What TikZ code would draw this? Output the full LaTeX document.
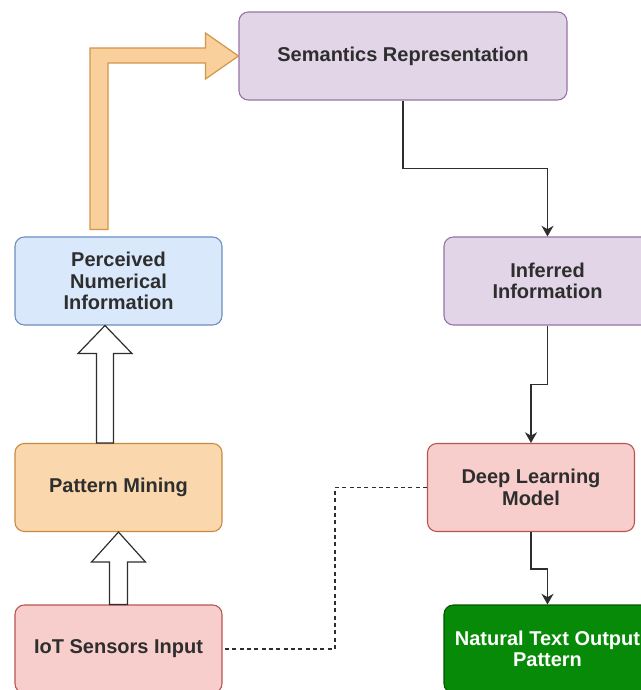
\documentclass[tikz,border=0pt]{standalone}
\usepackage{fontspec}
\setmainfont{Liberation Sans}
\usetikzlibrary{arrows.meta,calc}
\definecolor{semfill}{HTML}{E1D5E7}
\definecolor{semdraw}{HTML}{9673A6}
\definecolor{perfill}{HTML}{DAE8FC}
\definecolor{perdraw}{HTML}{6C8EBF}
\definecolor{patfill}{HTML}{FAD7AC}
\definecolor{patdraw}{HTML}{C98A3E}
\definecolor{iotfill}{HTML}{F8CECC}
\definecolor{iotdraw}{HTML}{B85450}
\definecolor{natfill}{HTML}{078A07}
\definecolor{natdraw}{HTML}{005700}
\definecolor{bendfill}{HTML}{F9CF9C}
\definecolor{benddraw}{HTML}{D3954A}
\definecolor{ink}{HTML}{2E2E2E}
\begin{document}
\begin{tikzpicture}
[
    x=0.75pt, y=-0.75pt,
    box/.style={rectangle, rounded corners=7pt, minimum width=155.25pt, minimum height=66pt,
        inner sep=0pt, align=center, line width=0.8pt, text=ink,
        font=\fontsize{15}{16.1}\selectfont\bfseries},
    semantic/.style={box, fill=semfill, draw=semdraw},
    perceived/.style={box, fill=perfill, draw=perdraw},
    mining/.style={box, fill=patfill, draw=patdraw},
    sensor/.style={box, fill=iotfill, draw=iotdraw},
    output/.style={box, fill=natfill, draw=natdraw, text=white},
    link/.style={draw=ink, line width=1pt, -{Stealth[length=8pt,width=9pt,inset=2.5pt]}},
    dashline/.style={draw=ink, line width=1pt, dash pattern=on 3pt off 2.5pt},
    hollow/.style={draw=ink, line width=0.9pt, fill=white, line join=miter},
    bent/.style={draw=benddraw, line width=0.9pt, fill=bendfill, line join=miter},
]
\useasboundingbox (0,0) rectangle (641,690);
\node[semantic, minimum width=246pt] (sem) at (403,56) {Semantics Representation};
\node[perceived] (per) at (118.5,281) {Perceived\\Numerical\\Information};
\node[mining] (pat) at (118.5,487.5) {Pattern Mining};
\node[sensor] (iot) at (118.5,649) {IoT Sensors Input};
\node[semantic] (inf) at (547.5,281) {Inferred\\Information};
\node[sensor] (deep) at (531,487.5) {Deep Learning\\Model};
\node[output] (nat) at (547.5,649) {Natural Text Output\\Pattern};

\draw[bent] ($(per.north)+(-28.5,-7)$) |- ($(sem.west)+(-33,-8)$) |- ($(sem.west)+(-33,-23)$)
    -- (sem.west) -- ($(sem.west)+(-33,23)$) |- ($(sem.west)+(-33,7)$)
    -| ($(per.north)+(-10.5,-7)$) -- cycle;
\draw[hollow] ($(pat.north)+(-22,0)$) |- ($(per.south)+(-40.5,28)$) -- ($(per.south)+(-13.5,0)$)
    -- ($(per.south)+(13.5,28)$) -| ($(pat.north)+(-5,0)$) -- cycle;
\draw[hollow] ($(iot.north)+(-9,0)$) |- ($(pat.south)+(-27,30)$) -- (pat.south)
    -- ($(pat.south)+(27,30)$) -| ($(iot.north)+(9,0)$) -- cycle;

\draw[link] (sem.south) -- ++(0,68) -| (inf.north);
\draw[link] (inf.south) -- ++(0,59) -| (deep.north);
\draw[link] (deep.south) -- ++(0,37) -| (nat.north);
\draw[dashline] (deep.west) -- ++(-92,0) |- (iot.east);
\end{tikzpicture}
\end{document}
